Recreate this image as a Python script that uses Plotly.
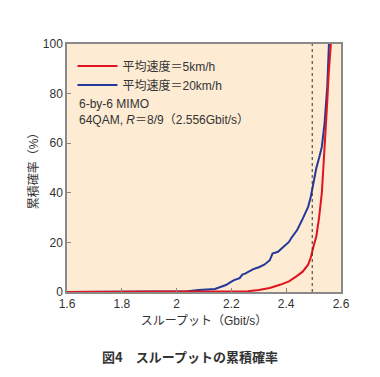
import plotly.graph_objects as go

# Data
blue_x = [1.6, 2.00, 2.04, 2.08, 2.12, 2.14, 2.16, 2.18, 2.20, 2.21, 2.23, 2.24, 2.25, 2.27, 2.28, 2.30,
          2.32, 2.34, 2.35, 2.37, 2.38, 2.40, 2.41, 2.42, 2.44, 2.46, 2.48, 2.49, 2.50, 2.51, 2.52,
          2.53, 2.54, 2.55, 2.556]
blue_y = [0, 0, 0.3, 0.8, 1.0, 1.2, 2.0, 2.8, 4.2, 4.8, 5.6, 7.0, 7.4, 8.6, 9.2, 10.0,
          11.0, 12.8, 15.5, 16.2, 17.2, 19.5, 20.2, 22.0, 25.0, 29.5, 34.3, 38.5, 45.0, 50.0, 54.0,
          58.5, 68.0, 83.0, 100.0]
red_x = [1.6, 2.0, 2.10, 2.20, 2.26, 2.30, 2.34, 2.38, 2.41, 2.44, 2.46, 2.48, 2.49, 2.50,
         2.51, 2.52, 2.53, 2.535, 2.54, 2.55, 2.555, 2.563]
red_y = [0, 0, 0.1, 0.2, 0.3, 0.8, 1.6, 3.0, 4.3, 6.5, 8.2, 11.0, 14.0, 18.5,
         22.5, 30.0, 40.0, 49.0, 57.0, 77.0, 88.0, 100.0]
limit_x = 2.495
series_names = ["平均速度＝5km/h", "平均速度＝20km/h"]
x_ticks = [1.6, 1.8, 2.0, 2.2, 2.4, 2.6]
x_tick_labels = ["1.6", "1.8", "2", "2.2", "2.4", "2.6"]
y_ticks = [0, 20, 40, 60, 80, 100]

FONT = "Liberation Sans, Noto Sans CJK JP, sans-serif"
JP = "Noto Sans CJK JP, sans-serif"

OFF = 8  # page body margin
W, H = 380 - OFF, 377 - OFF
L, T = 67 - OFF, 44 - OFF
R = W - (341 - OFF)
B = H - (292 - OFF)
plot_w = W - L - R
plot_h = H - T - B


def px_x(px):
    return (px - OFF - L) / plot_w


def px_y(py):
    return (H - B - (py - OFF)) / plot_h


fig = go.Figure()
fig.add_trace(go.Scatter(x=blue_x, y=blue_y, mode="lines", name=series_names[1],
                         line=dict(color="#23399a", width=2)))
fig.add_trace(go.Scatter(x=red_x, y=red_y, mode="lines", name=series_names[0],
                         line=dict(color="#e0141e", width=2)))
fig.add_trace(go.Scatter(x=[limit_x, limit_x], y=[0, 100], mode="lines", showlegend=False,
                         line=dict(color="#333333", width=1, dash="dot")))

fig.update_layout(
    width=W, height=H,
    margin=dict(l=L, r=R, t=T, b=B),
    paper_bgcolor="white",
    plot_bgcolor="#fdebd3",
    font=dict(family=FONT, size=12, color="#333333"),
    showlegend=True,
    legend=dict(x=0.02, y=0.97, xanchor="left", yanchor="top", traceorder="reversed",
                bgcolor="rgba(0,0,0,0)", font=dict(size=12, color="#333333", family=FONT),
                itemwidth=40, tracegroupgap=0),
    xaxis=dict(range=[1.6, 2.6], tickvals=x_ticks, ticktext=x_tick_labels,
               ticks="inside", ticklen=4, tickcolor="#888888", automargin=False,
               tickfont=dict(size=12),
               showgrid=False, zeroline=False, showline=True, mirror=True,
               linecolor="#8a8a8a", linewidth=1.5,
               title=dict(text="スループット（Gbit/s）", standoff=6, font=dict(size=12))),
    yaxis=dict(range=[0, 100], tickvals=y_ticks,
               ticks="inside", ticklen=4, tickcolor="#888888", automargin=False,
               tickfont=dict(size=12),
               showgrid=False, zeroline=False, showline=True, mirror=True,
               linecolor="#8a8a8a", linewidth=1.5,
               title=dict(text="累積確率（%）", standoff=2, font=dict(size=12))),
    annotations=[
        dict(x=px_x(77), y=px_y(104), xref="paper", yref="paper", xanchor="left", yanchor="middle",
             text="6-by-6 MIMO", showarrow=False, font=dict(size=12, color="#333333")),
        dict(x=px_x(77), y=px_y(120), xref="paper", yref="paper", xanchor="left", yanchor="middle",
             text="64QAM, <i>R</i>＝8/9（2.556Gbit/s）", showarrow=False,
             font=dict(size=12, color="#333333")),
        dict(x=px_x(190), y=px_y(356), xref="paper", yref="paper", showarrow=False,
             xanchor="center", yanchor="middle",
             text="<b>図4　スループットの累積確率</b>", font=dict(size=13, color="#333333", family=JP)),
    ],
)

fig.write_html("out.html")
